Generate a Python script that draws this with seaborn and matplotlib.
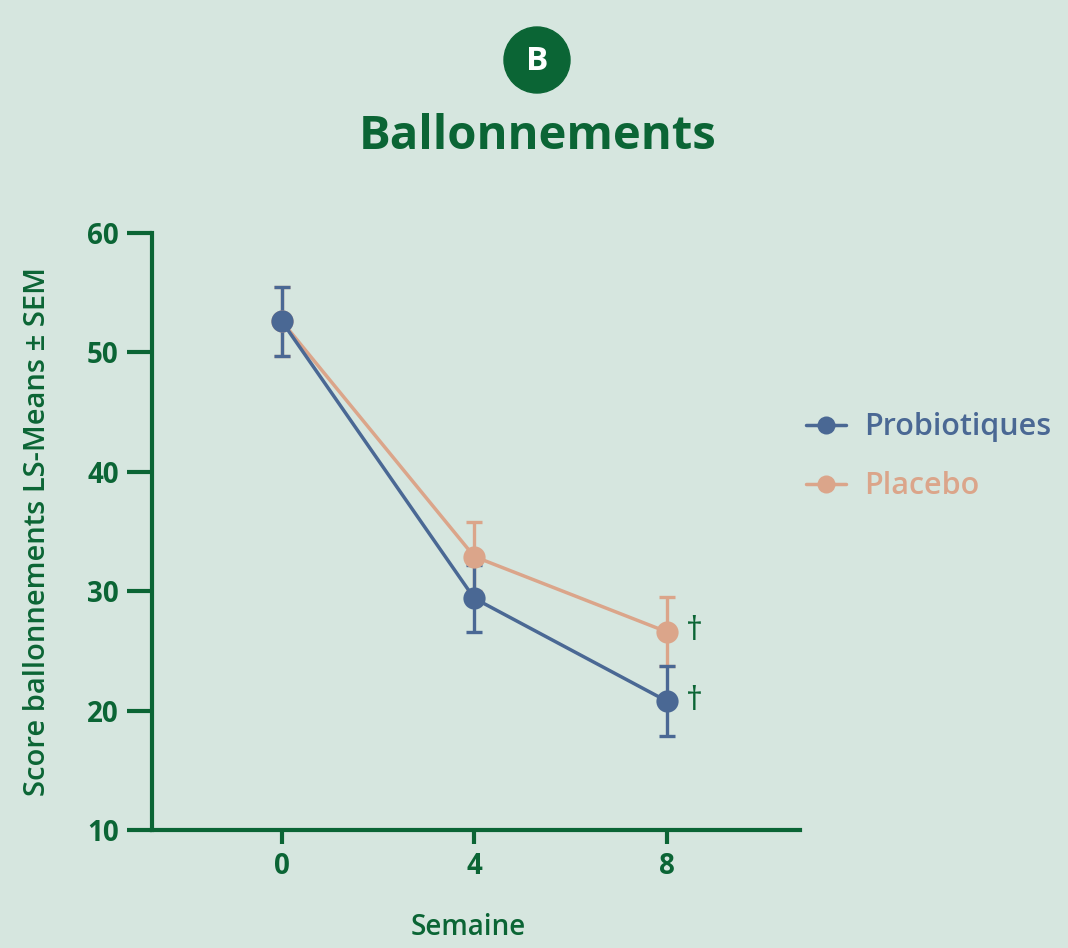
import matplotlib
matplotlib.use("Agg")
import matplotlib.pyplot as plt
import numpy as np
import pandas as pd
import seaborn as sns
from matplotlib.patches import Circle
from matplotlib.lines import Line2D

weeks = [0, 4, 8]
probio_mean = [52.6, 29.4, 20.8]
probio_sem = [2.9, 2.8, 2.9]
placebo_mean = [52.6, 32.9, 26.6]
placebo_sem = [2.9, 2.9, 2.9]
groups = ["Probiotiques", "Placebo"]
colors = {"Probiotiques": "#4a6894", "Placebo": "#dba58a"}
yticks = [10, 20, 30, 40, 50, 60]

BG = "#d6e6df"
GREEN = "#0b6535"

sns.set_theme(style="white")
plt.rcParams["font.family"] = ["Open Sans", "DejaVu Sans"]

df = pd.DataFrame({
    "Semaine": weeks * 2,
    "score": probio_mean + placebo_mean,
    "sem": probio_sem + placebo_sem,
    "groupe": [groups[0]] * 3 + [groups[1]] * 3,
})

fig = plt.figure(figsize=(10.68, 9.48), dpi=100, facecolor=BG)
ax = fig.add_axes([0.1423, 0.1245, 0.749 - 0.1423, 0.7542 - 0.1245])
ax.set_facecolor(BG)

for g in ["Placebo", "Probiotiques"]:
    sub = df[df["groupe"] == g]
    ax.errorbar(sub["Semaine"], sub["score"], yerr=sub["sem"], fmt="none",
                ecolor=colors[g], elinewidth=2.4, capsize=5.5, capthick=2.4, zorder=2)

sns.lineplot(data=df, x="Semaine", y="score", hue="groupe", palette=colors,
             hue_order=["Placebo", "Probiotiques"], marker="o", markersize=16,
             markeredgewidth=0, linewidth=2.5, ax=ax, legend=False, zorder=3)

# significance marks
for m in [placebo_mean[2], probio_mean[2]]:
    ax.text(8.4, m, "\u2020", color=GREEN, fontsize=24, va="center", ha="left")

ax.set_xlim(-2.7, 10.77)
ax.set_ylim(10, 60)
ax.set_xticks(weeks)
ax.set_yticks(yticks)
ax.tick_params(axis="y", colors=GREEN, length=18, width=3, labelsize=20, pad=6, left=True)
ax.tick_params(axis="x", colors=GREEN, length=10, width=3, labelsize=20, pad=6, bottom=True)
for lab in ax.get_xticklabels() + ax.get_yticklabels():
    lab.set_fontweight("bold")
for s in ["top", "right"]:
    ax.spines[s].set_visible(False)
for s in ["left", "bottom"]:
    ax.spines[s].set_color(GREEN)
    ax.spines[s].set_linewidth(3)

ax.set_xlabel("Semaine", color=GREEN, fontsize=20, fontweight="semibold")
ax.xaxis.label.set_va("center")
ax.xaxis.set_label_coords(0.488, -0.164)
ax.set_ylabel("Score ballonnements LS-Means \u00b1 SEM", color=GREEN, fontsize=21,
              fontweight="semibold")
ax.yaxis.label.set_va("center")
ax.yaxis.set_label_coords(-0.176, 0.5)

handles = [Line2D([], [], color=colors[g], marker="o", markersize=13, linewidth=2.5,
                  markeredgewidth=0) for g in groups]
leg = fig.legend(handles, groups, loc="center left", bbox_to_anchor=(0.729, 0.518),
                 frameon=False, fontsize=22, labelcolor="linecolor", handlelength=1.3,
                 handletextpad=0.6, labelspacing=0.95)
for t in leg.get_texts():
    t.set_fontweight("semibold")

fig.text(0.503, 0.856, "Ballonnements", color=GREEN, fontsize=34, fontweight="bold",
         ha="center", va="center")
circ = Circle((537, 948 - 60), 33, transform=None, color=GREEN)
fig.patches.append(circ)
fig.text(537 / 1068, 1 - 62 / 948, "B", color="white", fontsize=24, fontweight="bold",
         ha="center", va="center")

fig.savefig("out.png", dpi=100, facecolor=BG)
